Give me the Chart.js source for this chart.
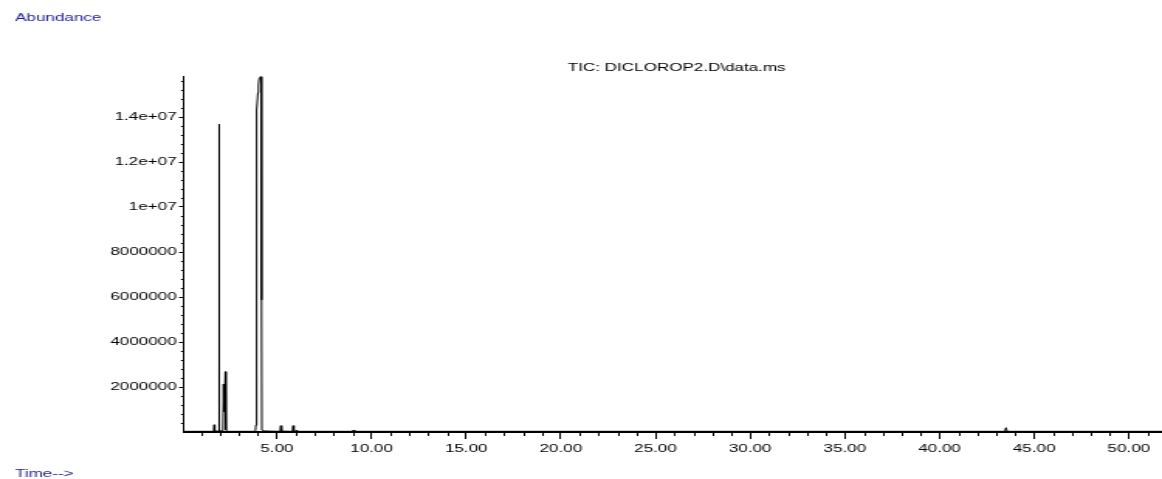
<!DOCTYPE html>
<html>
<head>
<meta charset="utf-8">
<script src="https://cdn.jsdelivr.net/npm/chart.js@4"></script>
<style>
  html, body { margin: 0; padding: 0; background: #fff; overflow: hidden; }
  /* the chart is laid out narrow and widened, giving the wide instrument-style lettering */
  #wrap { width: 750px; height: 479px; transform: scaleX(1.5493); transform-origin: 0 0; }
  canvas { display: block; }
</style>
</head>
<body>
<div id="wrap"><canvas id="tic" width="750" height="479" style="width:750px;height:479px"></canvas></div>
<script>
// Total ion chromatogram: retention time (min) and abundance
const times = [
  0.10, 1.60, 1.66, 1.69, 1.72, 1.92, 1.945, 1.965, 2.15, 2.185, 2.215, 2.28, 2.31, 2.40,
  3.85, 3.870, 3.891, 3.907, 3.923, 3.944, 3.960, 3.997, 4.029, 4.065, 4.118, 4.171, 4.187,
  4.197, 4.208, 4.30, 4.60, 5.17, 5.21, 5.25, 5.82, 5.86, 5.90, 6.02, 6.06, 6.10,
  9.00, 9.05, 9.10, 43.45, 43.51, 43.57, 51.75
];
const abundance = [
  30000, 30000, 60000, 320000, 40000, 40000, 13680000, 50000, 50000, 2130000, 900000, 2680000, 90000, 30000,
  30000, 50000, 311000, 7640000, 12090000, 13420000, 14310000, 15070000, 15420000, 15720000, 15800000, 15800000, 14760000,
  5870000, 90000, 50000, 40000, 30000, 280000, 40000, 30000, 280000, 40000, 40000, 80000, 30000,
  30000, 90000, 30000, 30000, 190000, 30000, 30000
];

const xTickValues = [5, 10, 15, 20, 25, 30, 35, 40, 45, 50];
const xTickLabels = ['5.00', '10.00', '15.00', '20.00', '25.00', '30.00', '35.00', '40.00', '45.00', '50.00'];
const yTickValues = [2000000, 4000000, 6000000, 8000000, 10000000, 12000000, 14000000];
const yTickLabels = ['2000000', '4000000', '6000000', '8000000', '1e+07', '1.2e+07', '1.4e+07'];

const signalTitle = 'TIC: DICLOROP2.D\\data.ms';
const yAxisName = 'Abundance';
const xAxisName = 'Time-->';

const points = times.map((t, i) => ({ x: t, y: abundance[i] }));

Chart.defaults.font.family = "'Liberation Sans', Arial, sans-serif";
Chart.defaults.font.size = 11;
Chart.defaults.color = '#000';

// minor ticks on both axes plus the free-standing captions
const decorations = {
  id: 'decorations',
  afterDraw(chart) {
    const ctx = chart.ctx;
    const xs = chart.scales.x, ys = chart.scales.y;
    const area = chart.chartArea;
    ctx.save();
    ctx.strokeStyle = '#000';
    ctx.lineWidth = 1;
    ctx.beginPath();
    for (let t = 1; t <= Math.floor(xs.max); t++) {
      if (t % 5 === 0 || t < xs.min) continue;
      const px = Math.round(xs.getPixelForValue(t)) + 0.5;
      ctx.moveTo(px, area.bottom);
      ctx.lineTo(px, area.bottom + 4);
    }
    for (let v = 400000; v < ys.max; v += 400000) {
      if (v % 2000000 === 0) continue;
      const py = Math.round(ys.getPixelForValue(v)) + 0.5;
      ctx.moveTo(area.left - 2, py);
      ctx.lineTo(area.left, py);
    }
    ctx.stroke();

    ctx.font = "11px 'Liberation Sans', Arial, sans-serif";
    ctx.textBaseline = 'alphabetic';
    ctx.fillStyle = '#1f1f9a';
    ctx.textAlign = 'left';
    ctx.fillText(yAxisName, 9.7, 20.7);
    ctx.fillText(xAxisName, 9.7, 476.5);
    ctx.fillStyle = '#000';
    ctx.textAlign = 'center';
    ctx.fillText(signalTitle, 436.8, 70.7);
    ctx.restore();
  }
};

new Chart(document.getElementById('tic'), {
  type: 'line',
  data: {
    datasets: [{
      data: points,
      borderColor: '#000',
      borderWidth: 1,
      pointRadius: 0,
      tension: 0,
      fill: false
    }]
  },
  options: {
    responsive: false,
    devicePixelRatio: 1,
    animation: false,
    layout: { padding: { top: 76.5, left: 0, right: 0, bottom: 0 } },
    plugins: { legend: { display: false }, tooltip: { enabled: false }, title: { display: false } },
    scales: {
      x: {
        type: 'linear',
        min: 0.1,
        max: 51.75,
        border: { display: true, color: '#000', width: 2 },
        grid: { drawOnChartArea: false, drawTicks: true, tickLength: 7, tickColor: '#000', tickWidth: 1 },
        ticks: {
          padding: 3,
          maxRotation: 0,
          autoSkip: false,
          callback: (v) => { const i = xTickValues.indexOf(v); return i >= 0 ? xTickLabels[i] : ''; }
        },
        afterBuildTicks: (s) => { s.ticks = xTickValues.map(v => ({ value: v })); },
        afterFit: (s) => { s.height = 47; }
      },
      y: {
        type: 'linear',
        min: 0,
        max: 15800000,
        border: { display: true, color: '#000', width: 1 },
        grid: { drawOnChartArea: false, drawTicks: true, tickLength: 3.3, tickColor: '#000', tickWidth: 1 },
        ticks: {
          padding: 1.5,
          autoSkip: false,
          callback: (v) => { const i = yTickValues.indexOf(v); return i >= 0 ? yTickLabels[i] : ''; }
        },
        afterBuildTicks: (s) => { s.ticks = yTickValues.map(v => ({ value: v })); },
        afterFit: (s) => { s.width = 118.8; }
      }
    }
  },
  plugins: [decorations]
});
</script>
</body>
</html>
